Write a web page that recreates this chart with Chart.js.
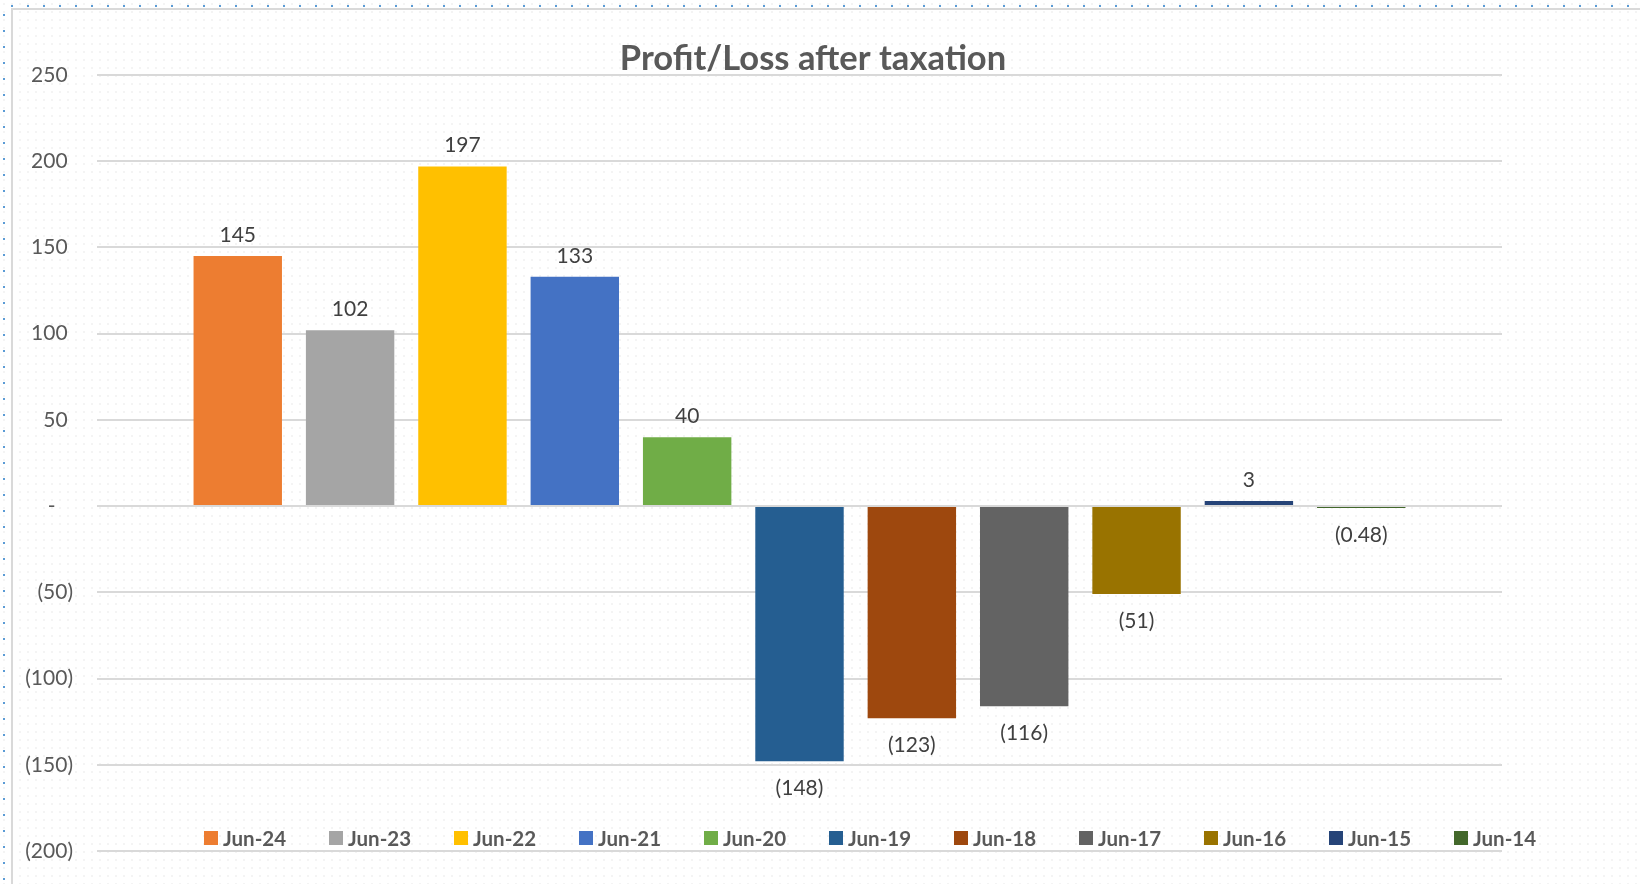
<!DOCTYPE html>
<html>
<head>
<meta charset="utf-8">
<title>Profit/Loss after taxation</title>
<script src="https://cdn.jsdelivr.net/npm/chart.js@4.4.1/dist/chart.umd.min.js"></script>
<style>
    body { margin: 0; background: #fff; }
    #wrap {
        position: relative; width: 1640px; height: 884px; overflow: hidden;
        background-image: radial-gradient(circle, #f4f4f4 0.8px, transparent 1.2px);
        background-size: 8px 8px;
    }
    /* sheet page-break dots and the chart object border */
    .dotsTop { position: absolute; left: 11px; top: 5px; width: 1640px; height: 2px;
        background: repeating-linear-gradient(to right, #5b9bd5 0 2px, transparent 2px 16px); }
    .dotsLeft { position: absolute; left: 3px; top: 14px; width: 2px; height: 884px;
        background: repeating-linear-gradient(to bottom, #5b9bd5 0 2px, transparent 2px 16px); }
    .frame { position: absolute; left: 11px; top: 8px; width: 1700px; height: 1000px;
        border-left: 2px solid #d9d9d9; border-top: 2px solid #d9d9d9; }
    canvas { position: absolute; left: 0; top: 0; }
</style>
</head>
<body>
<div id="wrap">
    <div class="dotsTop"></div>
    <div class="dotsLeft"></div>
    <div class="frame"></div>
    <canvas id="plChart" width="1640" height="884"></canvas>
</div>
<script>
// Financial years (one series each, like the Excel sheet)
var years = ['Jun-24', 'Jun-23', 'Jun-22', 'Jun-21', 'Jun-20', 'Jun-19', 'Jun-18', 'Jun-17', 'Jun-16', 'Jun-15', 'Jun-14'];
var profitAfterTax = [145, 102, 197, 133, 40, -148, -123, -116, -51, 3, -0.48];
var barColors = ['#ED7D31', '#A5A5A5', '#FFC000', '#4472C4', '#70AD47', '#255E91', '#9E480E', '#636363', '#997300', '#264478', '#43682B'];
var yTickValues = [-200, -150, -100, -50, 0, 50, 100, 150, 200, 250];

var chartTitle = 'Profit/Loss after taxation';
var fontFamily = 'Lato, Calibri, "Open Sans", sans-serif';

// Excel accounting style: 0 -> "-", negatives in brackets
function accounting(v) {
    if (v === 0) return '-';
    var s = String(Math.abs(v));
    return v < 0 ? '(' + s + ')' : s;
}

// Axis labels keep the trailing padding Excel leaves for the bracket
function tickLabel(v) {
    if (v === 0) return '-\u2007 ';
    if (v > 0) return v + ' ';
    return accounting(v);
}

// Title sits just over the top gridline
var titlePlugin = {
    id: 'plTitle',
    afterDraw: function(chart) {
        var ctx = chart.ctx;
        ctx.save();
        ctx.font = 'bold 34.5px ' + fontFamily;
        ctx.fillStyle = '#595959';
        ctx.textAlign = 'center';
        ctx.textBaseline = 'alphabetic';
        ctx.fillText(chartTitle, 813, 70);
        ctx.restore();
    }
};

// Value labels above / below each bar
var valueLabels = {
    id: 'valueLabels',
    afterDatasetsDraw: function(chart) {
        var ctx = chart.ctx;
        ctx.save();
        ctx.font = '21px ' + fontFamily;
        ctx.fillStyle = '#404040';
        ctx.textAlign = 'center';
        ctx.textBaseline = 'middle';
        chart.data.datasets.forEach(function(ds, i) {
            var bar = chart.getDatasetMeta(i).data[0];
            var v = ds.data[0];
            var y = v >= 0 ? bar.y - 21 : bar.y + 27;
            ctx.fillText(accounting(v), bar.x, y);
        });
        ctx.restore();
    }
};

// Legend row drawn over the bottom of the plot, as in the original
var bottomLegend = {
    id: 'bottomLegend',
    afterDraw: function(chart) {
        var ctx = chart.ctx;
        var step = 125, box = 14, cy = 838;
        var x = 204;
        ctx.save();
        ctx.font = 'bold 20.5px ' + fontFamily;
        ctx.textBaseline = 'middle';
        ctx.textAlign = 'left';
        chart.data.datasets.forEach(function(ds) {
            ctx.fillStyle = ds.backgroundColor;
            ctx.fillRect(x, cy - box / 2, box, box);
            ctx.fillStyle = '#595959';
            ctx.fillText(ds.label, x + box + 5, cy + 1);
            x += step;
        });
        ctx.restore();
    }
};

var datasets = years.map(function(y, i) {
    return {
        label: y,
        data: [profitAfterTax[i]],
        backgroundColor: barColors[i],
        borderWidth: 0,
        minBarLength: 2
    };
});

var ctx = document.getElementById('plChart').getContext('2d');
var plChart = new Chart(ctx, {
    type: 'bar',
    data: { labels: [''], datasets: datasets },
    options: {
        responsive: false,
        animation: false,
        layout: { padding: { top: 75, right: 138, bottom: 33, left: 0 } },
        datasets: { bar: { categoryPercentage: 0.8796, barPercentage: 0.787 } },
        plugins: {
            legend: { display: false },
            title: { display: false },
            tooltip: { enabled: false }
        },
        scales: {
            x: { display: false },
            y: {
                min: -200,
                max: 250,
                afterBuildTicks: function(scale) {
                    scale.ticks = yTickValues.map(function(v) { return { value: v }; });
                },
                afterFit: function(scale) {
                    scale.width = 97;
                    // tick padding is horizontal only, don't let it eat vertical room
                    scale.paddingTop = 13;
                    scale.paddingBottom = 13;
                },
                border: { display: false },
                grid: { color: '#d9d9d9', lineWidth: 2, drawTicks: false },
                ticks: {
                    padding: 24,
                    color: '#595959',
                    font: { family: fontFamily, size: 21 },
                    callback: tickLabel
                }
            }
        }
    },
    plugins: [titlePlugin, valueLabels, bottomLegend]
});
</script>
</body>
</html>
